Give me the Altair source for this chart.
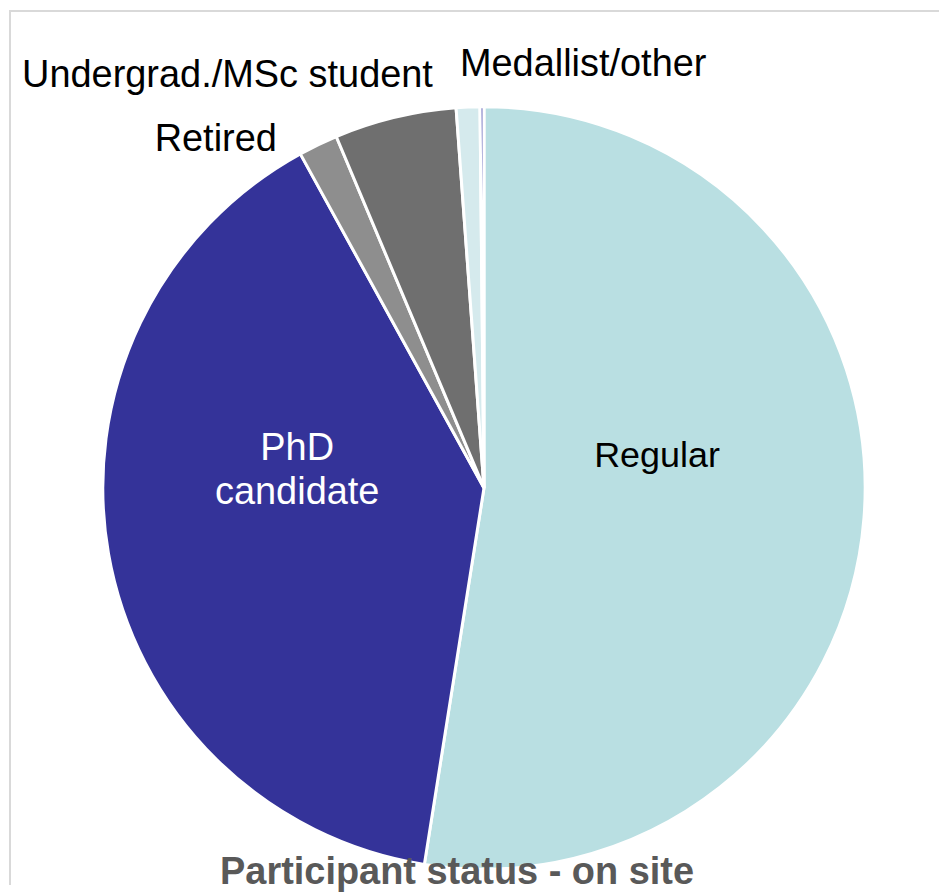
import altair as alt
import pandas as pd

categories = ["Regular", "PhD candidate", "Retired", "Undergrad./MSc student", "Medallist", "Other"]
counts = [315, 237, 10, 31, 6, 1]
labels = ["Regular", "PhD\ncandidate", "Retired", "Undergrad./MSc student", "Medallist/other", ""]
colors = ["#b9dfe2", "#343399", "#8e8e8e", "#6f6f6f", "#d5eaed", "#6666bb"]
title_text = "Participant status - on site"

df = pd.DataFrame({
    "category": categories,
    "count": counts,
    "label": labels,
    "idx": list(range(len(categories))),
})

CX, CY, R = 476, 479, 382
FONT = "Liberation Sans"

base = alt.Chart(df)

pie = base.mark_arc(outerRadius=R, stroke="white", strokeWidth=3).encode(
    theta=alt.Theta("count:Q", stack=True),
    color=alt.Color("category:N", scale=alt.Scale(domain=categories, range=colors), legend=None),
    order=alt.Order("idx:Q"),
    x=alt.value(CX),
    y=alt.value(CY),
)

lab_base = base.transform_window(
    cum="sum(count)", sort=[alt.SortField("idx")], frame=[None, 0]
).transform_joinaggregate(
    total="sum(count)"
).transform_calculate(
    mid="(datum.cum - datum.count/2) / datum.total * 2 * PI"
)

# label placement styling: (category, radius, dx, dy, color, size)
label_style = [
    ("Regular", 180, -6, -46, "black", 36),
    ("PhD candidate", 190, 0, -72, "white", 38),
    ("Retired", 420, -86, 29, "black", 38),
    ("Undergrad./MSc student", 420, -159, -4, "black", 38),
    ("Medallist", 420, 117, -4, "black", 38),
]

layers = [pie]
for cat, rad, ddx, ddy, col, fs in label_style:
    layers.append(
        lab_base.transform_filter(alt.datum.category == cat).mark_text(
            font=FONT, fontSize=fs, color=col, dx=ddx, dy=ddy,
            align="center", baseline="middle", lineBreak="\n", lineHeight=44,
        ).encode(
            theta=alt.Theta("mid:Q", scale=None, stack=False),
            radius=alt.value(rad),
            text="label:N",
            x=alt.value(CX),
            y=alt.value(CY),
        )
    )

title = alt.Chart(pd.DataFrame({"t": [title_text]})).mark_text(
    font=FONT, fontSize=38, fontWeight="bold", color="#595959",
    align="center", baseline="alphabetic",
).encode(text="t:N", x=alt.value(449), y=alt.value(876))

frame_left = alt.Chart(pd.DataFrame({"a": [0]})).mark_rule(color="#d9d9d9", strokeWidth=2).encode(
    x=alt.value(1), y=alt.value(0), y2=alt.value(877))
frame_top = alt.Chart(pd.DataFrame({"a": [0]})).mark_rule(color="#d9d9d9", strokeWidth=2).encode(
    x=alt.value(0), x2=alt.value(932), y=alt.value(1))

layers += [title, frame_left, frame_top]

chart = alt.layer(*layers).resolve_scale(theta="independent").properties(
    width=932, height=877, padding=0, background="white"
).configure_view(stroke=None)

chart.save("out.html", embed_options={"renderer": "svg", "actions": False})
